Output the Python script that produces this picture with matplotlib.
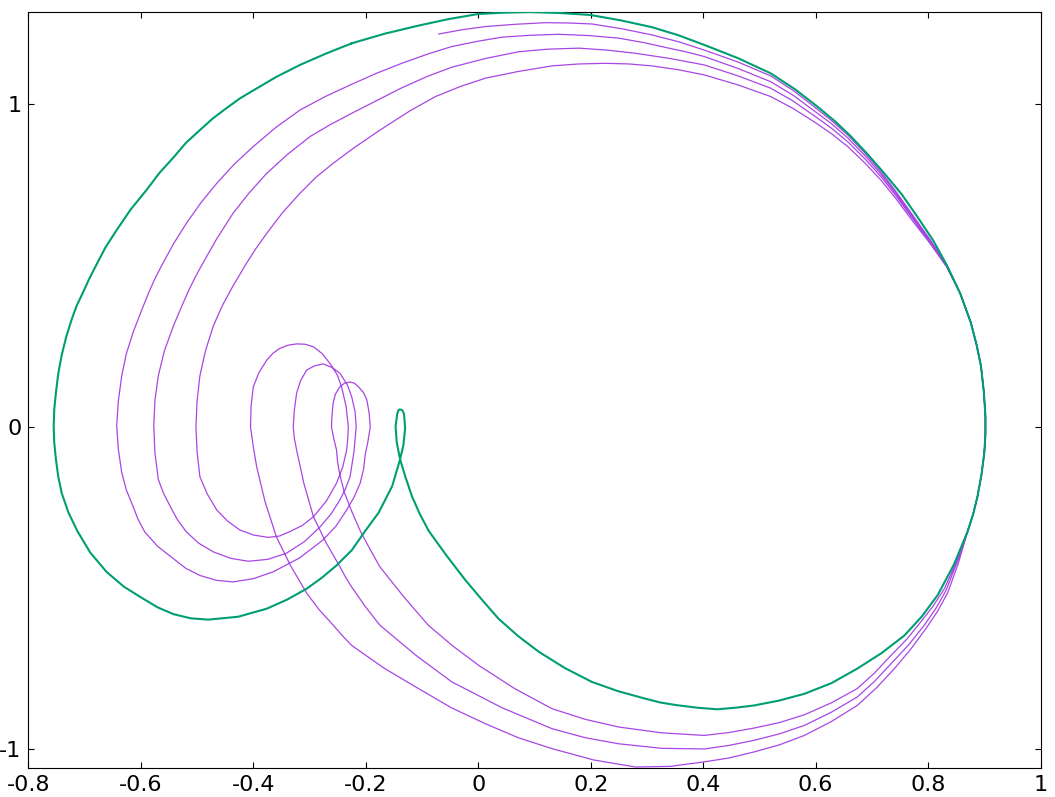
import matplotlib
matplotlib.use("Agg")
import matplotlib.pyplot as plt

# Замкнена крива (зелена), обхід за годинниковою стрілкою від верхньої лівої частини
green_x = [-0.225, -0.166, -0.106, -0.053, 0.000, 0.045, 0.090, 0.145, 0.199, 0.254,
           0.309, 0.356, 0.402, 0.462, 0.520, 0.563, 0.603, 0.634, 0.663, 0.693,
           0.722, 0.753, 0.781, 0.809, 0.833, 0.857, 0.876, 0.886, 0.894, 0.899,
           0.902, 0.902, 0.900, 0.895, 0.888, 0.880, 0.870, 0.846, 0.817, 0.789,
           0.758, 0.717, 0.674, 0.628, 0.580, 0.535, 0.491, 0.458, 0.425, 0.389,
           0.352, 0.324, 0.297, 0.249, 0.202, 0.154, 0.108, 0.071, 0.036, 0.006,
           -0.023, -0.057, -0.088, -0.104, -0.118, -0.129, -0.139, -0.145, -0.147, -0.144,
           -0.142, -0.139, -0.135, -0.132, -0.130, -0.133, -0.139, -0.153, -0.177, -0.201,
           -0.225, -0.239, -0.252, -0.278, -0.305, -0.340, -0.376, -0.427, -0.480, -0.511,
           -0.542, -0.570, -0.596, -0.630, -0.661, -0.690, -0.713, -0.729, -0.741, -0.747,
           -0.751, -0.754, -0.755, -0.754, -0.751, -0.747, -0.741, -0.733, -0.723, -0.714,
           -0.703, -0.692, -0.680, -0.663, -0.643, -0.618, -0.590, -0.567, -0.542, -0.520,
           -0.495, -0.472, -0.447, -0.424, -0.400, -0.359, -0.317, -0.271, -0.225]
green_y = [1.189, 1.219, 1.244, 1.264, 1.280, 1.284, 1.286, 1.283, 1.277, 1.260,
           1.239, 1.214, 1.184, 1.143, 1.096, 1.047, 0.993, 0.948, 0.900, 0.844,
           0.786, 0.721, 0.651, 0.578, 0.502, 0.414, 0.323, 0.256, 0.189, 0.111,
           0.033, -0.024, -0.080, -0.148, -0.215, -0.272, -0.326, -0.427, -0.522, -0.588,
           -0.647, -0.702, -0.750, -0.795, -0.828, -0.849, -0.864, -0.871, -0.876, -0.871,
           -0.863, -0.855, -0.843, -0.820, -0.791, -0.748, -0.698, -0.649, -0.595, -0.535,
           -0.475, -0.398, -0.323, -0.270, -0.215, -0.158, -0.101, -0.047, 0.002, 0.040,
           0.051, 0.054, 0.051, 0.040, -0.004, -0.056, -0.101, -0.184, -0.266, -0.323,
           -0.383, -0.407, -0.430, -0.468, -0.502, -0.536, -0.564, -0.589, -0.598, -0.594,
           -0.581, -0.560, -0.533, -0.496, -0.450, -0.390, -0.323, -0.265, -0.204, -0.153,
           -0.101, -0.049, 0.002, 0.054, 0.106, 0.163, 0.220, 0.277, 0.333, 0.376,
           0.416, 0.458, 0.499, 0.556, 0.610, 0.674, 0.734, 0.787, 0.835, 0.880,
           0.920, 0.956, 0.989, 1.018, 1.043, 1.085, 1.122, 1.157, 1.189]

# Права частина, де фіолетова крива йде під зеленою
right_x = [0.857, 0.876, 0.886, 0.894, 0.899, 0.902, 0.902, 0.900, 0.895, 0.888, 0.880, 0.870]
right_y = [0.414, 0.323, 0.256, 0.189, 0.111, 0.033, -0.024, -0.080, -0.148, -0.215, -0.272, -0.326]

# Оберт 1: верхня дуга
t1a_x = [-0.070, -0.029, 0.013, 0.066, 0.119, 0.161, 0.202, 0.256, 0.309, 0.356,
         0.402, 0.462, 0.520, 0.560, 0.597, 0.628, 0.657, 0.687, 0.716, 0.743,
         0.769, 0.802, 0.833]
t1a_y = [1.218, 1.231, 1.241, 1.248, 1.253, 1.252, 1.249, 1.234, 1.215, 1.194,
         1.168, 1.131, 1.088, 1.043, 0.993, 0.950, 0.905, 0.850, 0.791, 0.729,
         0.665, 0.584, 0.502]
# Оберт 1: нижня дуга, петля, ліва дуга
t1b_x = [0.851, 0.829, 0.809, 0.787, 0.762, 0.734, 0.705, 0.674, 0.628, 0.580,
         0.536, 0.491, 0.446, 0.402, 0.326, 0.250, 0.190, 0.131, 0.065, 0.001,
         -0.045, -0.089, -0.133, -0.175, -0.192, -0.209, -0.226, -0.238, -0.246, -0.250,
         -0.252, -0.257, -0.261, -0.260, -0.258, -0.254, -0.246, -0.238, -0.228, -0.220,
         -0.213, -0.204, -0.198, -0.194, -0.192, -0.196, -0.201, -0.204, -0.210, -0.221,
         -0.234, -0.253, -0.276, -0.318, -0.365, -0.400, -0.436, -0.466, -0.495, -0.520,
         -0.542, -0.570, -0.593, -0.605, -0.614, -0.626, -0.634, -0.640, -0.643, -0.640,
         -0.634, -0.626, -0.614, -0.600, -0.586, -0.575, -0.563, -0.542, -0.519, -0.493,
         -0.465, -0.434, -0.400, -0.360, -0.317, -0.272]
t1b_y = [-0.416, -0.502, -0.556, -0.605, -0.659, -0.709, -0.763, -0.812, -0.856, -0.893,
         -0.917, -0.934, -0.948, -0.957, -0.949, -0.931, -0.907, -0.874, -0.812, -0.740,
         -0.680, -0.615, -0.526, -0.434, -0.381, -0.326, -0.258, -0.204, -0.150, -0.111,
         -0.072, -0.036, 0.000, 0.037, 0.073, 0.101, 0.124, 0.135, 0.139, 0.135,
         0.124, 0.106, 0.083, 0.042, 0.000, -0.044, -0.087, -0.132, -0.175, -0.219,
         -0.258, -0.308, -0.351, -0.407, -0.450, -0.471, -0.481, -0.476, -0.461, -0.439,
         -0.409, -0.371, -0.326, -0.287, -0.246, -0.195, -0.142, -0.070, 0.003, 0.080,
         0.158, 0.225, 0.292, 0.355, 0.416, 0.459, 0.500, 0.567, 0.631, 0.695,
         0.755, 0.814, 0.869, 0.928, 0.982, 1.024]

# Оберт 2
t2a_x = [-0.225, -0.181, -0.136, -0.091, -0.047, -0.002, 0.042, 0.093, 0.143, 0.197,
         0.250, 0.295, 0.339, 0.371, 0.402, 0.462, 0.520, 0.560, 0.597, 0.628,
         0.657, 0.687, 0.716, 0.743, 0.769, 0.802, 0.833]
t2a_y = [1.062, 1.096, 1.127, 1.155, 1.179, 1.195, 1.208, 1.214, 1.217, 1.213,
         1.205, 1.191, 1.174, 1.162, 1.148, 1.111, 1.070, 1.028, 0.980, 0.940,
         0.896, 0.842, 0.784, 0.723, 0.660, 0.581, 0.500]
t2b_x = [0.852, 0.832, 0.814, 0.793, 0.765, 0.734, 0.705, 0.674, 0.628, 0.580,
         0.536, 0.491, 0.446, 0.402, 0.326, 0.250, 0.190, 0.131, 0.042, -0.047,
         -0.112, -0.175, -0.201, -0.225, -0.236, -0.246, -0.271, -0.293, -0.310, -0.323,
         -0.327, -0.329, -0.327, -0.323, -0.316, -0.305, -0.291, -0.276, -0.260, -0.246,
         -0.233, -0.225, -0.219, -0.217, -0.221, -0.228, -0.236, -0.246, -0.262, -0.281,
         -0.309, -0.341, -0.374, -0.409, -0.440, -0.471, -0.497, -0.519, -0.535, -0.548,
         -0.560, -0.569, -0.575, -0.577, -0.575, -0.569, -0.558, -0.542, -0.528, -0.514,
         -0.503, -0.492, -0.465, -0.436, -0.407, -0.376, -0.339, -0.299, -0.263]
t2b_y = [-0.418, -0.507, -0.563, -0.616, -0.677, -0.735, -0.789, -0.838, -0.885, -0.926,
         -0.952, -0.972, -0.988, -0.999, -0.997, -0.983, -0.964, -0.936, -0.871, -0.791,
         -0.707, -0.615, -0.557, -0.497, -0.466, -0.434, -0.358, -0.279, -0.176, -0.072,
         -0.036, 0.000, 0.052, 0.104, 0.143, 0.176, 0.189, 0.195, 0.184, 0.166,
         0.131, 0.093, 0.047, 0.000, -0.078, -0.155, -0.192, -0.227, -0.271, -0.310,
         -0.356, -0.392, -0.411, -0.417, -0.408, -0.388, -0.361, -0.326, -0.288, -0.246,
         -0.205, -0.163, -0.080, 0.003, 0.081, 0.158, 0.236, 0.313, 0.371, 0.426,
         0.465, 0.500, 0.583, 0.662, 0.726, 0.786, 0.845, 0.900, 0.937]

# Оберт 3
t3a_x = [-0.225, -0.181, -0.136, -0.091, -0.047, 0.013, 0.072, 0.125, 0.179, 0.229,
         0.280, 0.341, 0.402, 0.462, 0.520, 0.560, 0.597, 0.628, 0.657, 0.687,
         0.716, 0.743, 0.769, 0.802, 0.833]
t3a_y = [0.972, 1.011, 1.051, 1.086, 1.115, 1.142, 1.163, 1.171, 1.174, 1.168,
         1.158, 1.142, 1.122, 1.088, 1.050, 1.010, 0.965, 0.926, 0.884, 0.832,
         0.776, 0.716, 0.654, 0.577, 0.499]
t3b_x = [0.854, 0.835, 0.817, 0.796, 0.769, 0.740, 0.708, 0.674, 0.628, 0.580,
         0.536, 0.491, 0.446, 0.402, 0.341, 0.280, 0.205, 0.131, 0.071, 0.013,
         -0.048, -0.106, -0.167, -0.225, -0.242, -0.258, -0.283, -0.305, -0.334, -0.359,
         -0.379, -0.394, -0.400, -0.405, -0.404, -0.400, -0.390, -0.376, -0.365, -0.353,
         -0.338, -0.323, -0.308, -0.293, -0.277, -0.264, -0.251, -0.243, -0.235, -0.231,
         -0.232, -0.234, -0.241, -0.252, -0.270, -0.293, -0.313, -0.335, -0.354, -0.373,
         -0.399, -0.424, -0.446, -0.465, -0.482, -0.495, -0.500, -0.502, -0.500, -0.495,
         -0.485, -0.471, -0.455, -0.436, -0.425, -0.415, -0.396, -0.376, -0.348, -0.317,
         -0.289, -0.258, -0.242]
t3b_y = [-0.422, -0.514, -0.572, -0.626, -0.690, -0.750, -0.810, -0.864, -0.914, -0.957,
         -0.986, -1.008, -1.027, -1.039, -1.053, -1.055, -1.033, -0.998, -0.964, -0.921,
         -0.871, -0.812, -0.749, -0.678, -0.647, -0.615, -0.567, -0.516, -0.430, -0.341,
         -0.233, -0.124, -0.062, 0.000, 0.063, 0.124, 0.168, 0.207, 0.228, 0.243,
         0.253, 0.257, 0.256, 0.248, 0.226, 0.197, 0.162, 0.124, 0.063, 0.000,
         -0.036, -0.072, -0.125, -0.175, -0.230, -0.279, -0.306, -0.325, -0.339, -0.343,
         -0.336, -0.320, -0.292, -0.258, -0.208, -0.155, -0.077, 0.001, 0.079, 0.158,
         0.236, 0.313, 0.376, 0.437, 0.469, 0.499, 0.551, 0.600, 0.664, 0.724,
         0.773, 0.817, 0.838]

# Останній шматок (внутрішня верхня дуга)
t4_x = [-0.225, -0.195, -0.165, -0.121, -0.076, -0.032, 0.013, 0.072, 0.131, 0.179,
        0.226, 0.268, 0.309, 0.356, 0.402, 0.462, 0.520, 0.560, 0.597, 0.628,
        0.657, 0.687, 0.716, 0.743, 0.769, 0.802, 0.833]
t4_y = [0.860, 0.896, 0.931, 0.980, 1.024, 1.055, 1.081, 1.102, 1.119, 1.125,
        1.127, 1.125, 1.119, 1.107, 1.091, 1.060, 1.024, 0.987, 0.946, 0.909,
        0.869, 0.819, 0.765, 0.707, 0.646, 0.572, 0.496]

x_ticks = [-0.8, -0.6, -0.4, -0.2, 0, 0.2, 0.4, 0.6, 0.8, 1]
x_labels = ["-0.8", "-0.6", "-0.4", "-0.2", "0", "0.2", "0.4", "0.6", "0.8", "1"]
y_ticks = [-1, 0, 1]
y_labels = ["-1", "0", "1"]

# Збираємо фіолетову траєкторію в одну лінію
purple_x = (t1a_x + right_x + t1b_x + t2a_x + right_x + t2b_x
            + t3a_x + right_x + t3b_x + t4_x + right_x[:8])
purple_y = (t1a_y + right_y + t1b_y + t2a_y + right_y + t2b_y
            + t3a_y + right_y + t3b_y + t4_y + right_y[:8])

plt.rcParams["font.family"] = ["DejaVu Sans"]
plt.rcParams["axes.unicode_minus"] = False

fig = plt.figure(figsize=(10.55, 7.97), dpi=100)
ax = fig.add_axes([0.0269, 0.0364, 0.9594, 0.9485])

ax.plot(purple_x, purple_y, color="#a846e4", linewidth=0.9,
        solid_joinstyle="round", zorder=2)
ax.plot(green_x, green_y, color="#009e73", linewidth=1.5,
        solid_joinstyle="round", zorder=3)

ax.set_xlim(-0.8, 1.0)
ax.set_ylim(-1.058, 1.286)
ax.set_xticks(x_ticks)
ax.set_xticklabels(x_labels)
ax.set_yticks(y_ticks)
ax.set_yticklabels(y_labels)
ax.tick_params(direction="in", length=4.5, width=0.8, top=True, right=True,
               labelsize=16, pad=5, colors="black")
for s in ax.spines.values():
    s.set_linewidth(0.8)

fig.savefig("out.png", dpi=100)
